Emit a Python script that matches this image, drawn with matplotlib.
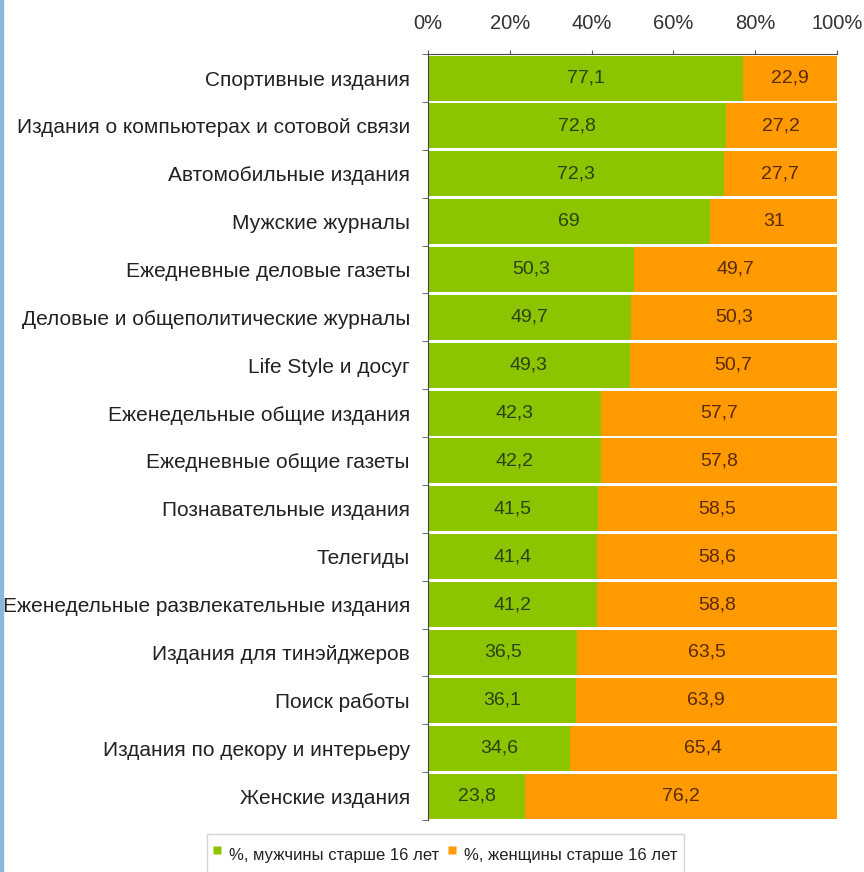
import matplotlib.pyplot as plt
import numpy as np
from matplotlib.patches import Rectangle
from matplotlib.lines import Line2D

plt.rcParams['font.family'] = ['Liberation Sans', 'DejaVu Sans']

categories = [
    'Спортивные издания',
    'Издания о компьютерах и сотовой связи',
    'Автомобильные издания',
    'Мужские журналы',
    'Ежедневные деловые газеты',
    'Деловые и общеполитические журналы',
    'Life Style и досуг',
    'Еженедельные общие издания',
    'Ежедневные общие газеты',
    'Познавательные издания',
    'Телегиды',
    'Еженедельные развлекательные издания',
    'Издания для тинэйджеров',
    'Поиск работы',
    'Издания по декору и интерьеру',
    'Женские издания',
]
men = [77.1, 72.8, 72.3, 69, 50.3, 49.7, 49.3, 42.3, 42.2, 41.5, 41.4, 41.2, 36.5, 36.1, 34.6, 23.8]
women = [22.9, 27.2, 27.7, 31, 49.7, 50.3, 50.7, 57.7, 57.8, 58.5, 58.6, 58.8, 63.5, 63.9, 65.4, 76.2]
series_names = ['%, мужчины старше 16 лет', '%, женщины старше 16 лет']
tick_labels = ['0%', '20%', '40%', '60%', '80%', '100%']

green = '#8dc400'
orange = '#ff9a00'

fig = plt.figure(figsize=(8.64, 8.72), dpi=100)
ax = fig.add_axes([0.4954, 0.0596, 0.4734, 0.8784])

y = np.arange(len(categories))
ax.barh(y, men, height=0.94, color=green, edgecolor='none')
ax.barh(y, women, left=men, height=0.94, color=orange, edgecolor='none')

def fmt(v):
    return ('%g' % v).replace('.', ',')

for i in range(len(categories)):
    ax.text(men[i] / 2, y[i], fmt(men[i]), ha='center', va='center',
            fontsize=14, color='#2a4210')
    ax.text(men[i] + women[i] / 2, y[i], fmt(women[i]), ha='center', va='center',
            fontsize=14, color='#5a2a08')

ax.set_xlim(0, 100)
ax.set_ylim(len(categories) - 0.5, -0.5)
ax.xaxis.tick_top()
ax.set_xticks([0, 20, 40, 60, 80, 100])
ax.set_xticklabels(tick_labels)
ax.tick_params(axis='x', direction='out', length=3, pad=12, labelsize=14.5,
               colors='#555555', labelcolor='#333333')
ax.set_yticks(y)
ax.set_yticklabels(categories)
ax.tick_params(axis='y', length=0, pad=13, labelsize=15, labelcolor='#222222')
ax.set_yticks(np.arange(len(categories) + 1) - 0.5, minor=True)
ax.tick_params(axis='y', which='minor', length=4, direction='out', color='#555555')

for side in ['right', 'bottom']:
    ax.spines[side].set_visible(False)
ax.spines['top'].set_color('#444444')
ax.spines['left'].set_color('#444444')

# small square markers as legend keys
handles = [Line2D([], [], ls='none', marker='s', markersize=5.5,
                  markerfacecolor=c, markeredgecolor='none')
           for c in (green, orange)]
leg = fig.legend(handles, series_names, loc='upper left',
                 bbox_to_anchor=(207 / 864, 1 - 834 / 872),
                 ncol=2, fontsize=12, frameon=True, fancybox=False,
                 handlelength=0.4, handleheight=2.3, handletextpad=0.5,
                 columnspacing=0.6, borderpad=0.4, borderaxespad=0)
leg.get_frame().set_edgecolor('#c8c8c8')
leg.get_frame().set_linewidth(1)
for t in leg.get_texts():
    t.set_color('#222222')

# blue border along the left edge
fig.patches.append(Rectangle((0, 0), 3 / 864, 1, transform=fig.transFigure,
                             color='#8ab8dc', zorder=5))

fig.savefig('out.png', dpi=100)
